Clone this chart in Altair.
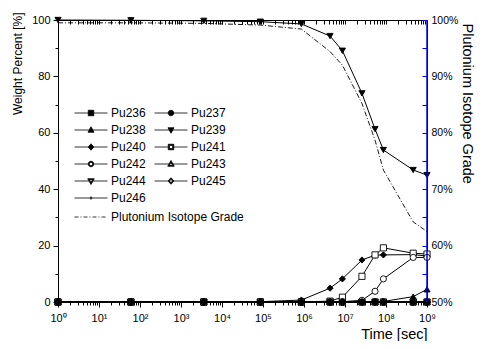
import altair as alt
import pandas as pd

# ---- data ----
times = [1, 60, 3600, 86400, 864000, 4.32e6, 8.64e6, 2.592e7, 5.4e7, 8.64e7, 4.6e8, 1e9]
isotopes = ["Pu236", "Pu237", "Pu238", "Pu239", "Pu240", "Pu241",
            "Pu242", "Pu243", "Pu244", "Pu245", "Pu246"]
pu236 = [0, 0, 0, 0, 0, 0, 0, 0, 0, 0, 0, 0]
pu237 = [0, 0, 0, 0, 0, 0, 0, 0, 0, 0, 0, 0]
pu238 = [0, 0, 0, 0, 0, 0, 0, 0, 0.1, 0.2, 1.9, 4.5]
pu239 = [100, 99.9, 99.7, 99.4, 98.6, 94.3, 89.1, 74.0, 61.3, 53.9, 46.8, 45.0]
pu240 = [0, 0, 0, 0.1, 0.7, 4.9, 8.2, 14.9, 16.6, 16.7, 16.8, 16.3]
pu241 = [0, 0, 0, 0, 0.05, 0.3, 1.7, 9.1, 16.7, 19.2, 17.3, 17.0]
pu242 = [0, 0, 0, 0, 0, 0, 0.1, 0.6, 3.8, 8.2, 15.8, 15.8]
pu243 = [0, 0, 0, 0, 0, 0, 0, 0, 0, 0, 0, 0]
pu244 = [0, 0, 0, 0, 0, 0, 0, 0, 0, 0, 0, 0]
pu245 = [0, 0, 0, 0, 0, 0, 0, 0, 0, 0, 0, 0]
pu246 = [0, 0, 0, 0, 0, 0, 0, 0, 0, 0, 0, 0]
grade_label = "Plutonium Isotope Grade"
grade = [99.5, 99.5, 99.4, 99.1, 98.4, 94.4, 92.0, 85.2, 78.7, 73.4, 64.2, 62.5]

x_major_values = [10 ** e for e in range(10)]
x_minor_values = [m * 10 ** e for e in range(9) for m in range(2, 10)]
left_major_values = list(range(0, 101, 20))
left_minor_values = list(range(10, 100, 20))
right_axis_values = list(range(50, 101, 5))

# ---- styles ----
FONT = "Liberation Sans"
plot_shapes = ["square", "circle", "triangle-up", "triangle-down", "diamond",
               "square", "circle", "triangle-up", "triangle-down", "diamond", "cross"]
plot_fills = ["black"] * 5 + ["white"] * 5 + ["black"]

series = [pu236, pu237, pu238, pu239, pu240, pu241, pu242, pu243, pu244, pu245, pu246]
rows = []
for iso, vals, shp, fil in zip(isotopes, series, plot_shapes, plot_fills):
    for t, v in zip(times, vals):
        rows.append({"iso": iso, "t": t, "v": v, "shp": shp, "fil": fil})
df = pd.DataFrame(rows)
gdf = pd.DataFrame({"t": times, "g": grade, "name": [grade_label] * len(times)})
edge_df = pd.DataFrame({"edge": [times[-1]]})

L = 3.3
m = 0.55   # outer half-size of legend markers
n = 0.32   # inner half-size (hole) of open legend markers
full = f"M{-L},0H{L}"


def circ(r, sweep):
    return f"M{-r},0A{r},{r},0,1,{sweep},{r},0A{r},{r},0,1,{sweep},{-r},0Z"


leg_paths = [
    full + f"M{-m},{-m}H{m}V{m}H{-m}Z",
    full + circ(m, 0),
    full + "M0,-0.65L0.6,0.45H-0.6Z",
    full + "M0,0.65L0.6,-0.45H-0.6Z",
    full + "M0,-0.65L0.55,0L0,0.65L-0.55,0Z",
    f"M{-L},0H{-m}M{m},0H{L}M{-m},{-m}H{m}V{m}H{-m}Z"
    f"M{-n},{-n}V{n}H{n}V{-n}Z",
    f"M{-L},0H{-m}M{m},0H{L}" + circ(m, 0) + circ(n, 1),
    f"M{-L},0H-0.4M0.4,0H{L}M0,-0.7L0.65,0.45H-0.65ZM0,-0.3L-0.33,0.27H0.33Z",
    f"M{-L},0H-0.4M0.4,0H{L}M0,0.7L0.65,-0.45H-0.65ZM0,0.3L-0.33,-0.27H0.33Z",
    f"M{-L},0H-0.6M0.6,0H{L}M0,-0.65L0.6,0L0,0.65L-0.6,0Z"
    "M0,-0.33L-0.3,0L0,0.33L0.3,0Z",
    full + "M0,-0.35V0.35M-0.25,0H0.25",
]
dd = ""
pos = -L
while pos < L:
    e = min(pos + 0.8, L)
    dd += f"M{pos:.2f},0H{e:.2f}"
    d0 = pos + 1.2
    if d0 < L:
        dd += f"M{d0:.2f},0H{min(d0 + 0.2, L):.2f}"
    pos += 1.8

sup = "['\u2070','\u00b9','\u00b2','\u00b3','\u2074','\u2075','\u2076','\u2077','\u2078','\u2079']"

x_scale = alt.Scale(type="log", domain=[1, 1e9], nice=False)
y_scale = alt.Scale(domain=[0, 100], nice=False)
g_scale = alt.Scale(domain=[50, 100], nice=False)

bottom_axis = alt.Axis(
    orient="bottom", values=x_major_values, labelOverlap=False, labelFlush=False,
    labelExpr=f"'10' + {sup}[round(log(datum.value)/LN10)]",
    tickSize=5, labelPadding=5, labelFontSize=11, title="Time [sec]",
    titleFontSize=14.5, titleAlign="right", titleX=369, titleY=36,
    titleBaseline="alphabetic",
)
bottom_minor_axis = alt.Axis(
    orient="bottom", values=x_minor_values, tickSize=3, labels=False,
    domain=False, title=None,
)
top_axis = alt.Axis(
    orient="top", values=x_major_values + x_minor_values, offset=-4,
    domain=False, labels=False, tickSize=4, title=None,
)
left_axis = alt.Axis(
    orient="left", values=left_major_values, labelOverlap=False, labelFlush=False,
    tickSize=5, labelPadding=3, labelFontSize=11, title="Weight Percent [%]",
    titleFontSize=12, titleAngle=270, titleAlign="right",
    titleBaseline="middle", titleX=-41, titleY=-8,
)
left_minor_axis = alt.Axis(
    orient="left", values=left_minor_values, tickSize=3, labels=False,
    domain=False, title=None,
)
right_axis = alt.Axis(
    orient="right", values=right_axis_values, offset=-5, domain=False,
    tickColor="#0000ff", tickSize=5, labelOverlap=False, labelFlush=False,
    labelExpr="datum.value % 10 == 0 ? datum.value + '%' : ''",
    labelPadding=4, labelFontSize=10.5, title="Plutonium Isotope Grade",
    titleFontSize=14.5, titleAngle=90, titleAlign="left", titleBaseline="middle",
    titleX=44, titleY=3,
)

legend_common = dict(
    title=None, orient="none", symbolSize=100, symbolStrokeWidth=0.8,
    symbolStrokeColor="black", labelFontSize=12,
    labelFont=FONT, labelColor="black", labelOffset=14,
)

lines = alt.Chart(df).mark_line(color="black", strokeWidth=1).encode(
    x=alt.X("t:Q", scale=x_scale, axis=bottom_axis),
    y=alt.Y("v:Q", scale=y_scale, axis=left_axis),
    detail="iso:N",
)
points = alt.Chart(df).mark_point(filled=True, stroke="black", strokeWidth=0.9,
                                  size=38, opacity=1).encode(
    x=alt.X("t:Q", scale=x_scale, axis=None),
    y=alt.Y("v:Q", scale=y_scale, axis=None),
    shape=alt.Shape("shp:N", scale=None),
    fill=alt.Fill("fil:N", scale=None),
)
legend_iso = alt.Chart(df).transform_filter("false").mark_point(
    filled=True, fill="black", stroke="black", strokeWidth=0.8, opacity=1
).encode(
    x=alt.X("t:Q", scale=x_scale, axis=None),
    y=alt.Y("v:Q", scale=y_scale, axis=None),
    shape=alt.Shape(
        "iso:N", scale=alt.Scale(domain=isotopes, range=leg_paths),
        legend=alt.Legend(legendX=27, legendY=87, columns=2,
                          direction="horizontal", columnPadding=6, rowPadding=5,
                          symbolFillColor="black", **legend_common),
    ),
)
legend_grade = alt.Chart(gdf).transform_filter("false").mark_point(
    filled=False, strokeWidth=1, opacity=1
).encode(
    x=alt.X("t:Q", scale=x_scale, axis=None),
    y=alt.Y("g:Q", scale=g_scale, axis=None),
    color=alt.Color(
        "name:N", scale=alt.Scale(domain=[grade_label], range=["black"]),
        legend=alt.Legend(legendX=27, legendY=191, symbolType=dd,
                          symbolFillColor="transparent", **legend_common),
    ),
)
minor_ticks = alt.Chart(edge_df).mark_point(opacity=0).encode(
    x=alt.X("edge:Q", scale=x_scale, axis=bottom_minor_axis),
    y=alt.YDatum(0, scale=y_scale, axis=left_minor_axis),
)
grade_line = alt.Chart(gdf).mark_line(color="black", strokeWidth=0.9,
                                      strokeDash=[5, 2, 1, 2]).encode(
    x=alt.X("t:Q", scale=x_scale, axis=top_axis),
    y=alt.Y("g:Q", scale=g_scale, axis=right_axis),
)
blue_rule = alt.Chart(edge_df).mark_rule(color="#0000ff", strokeWidth=1.5).encode(
    x=alt.X("edge:Q", scale=x_scale, axis=None),
    y=alt.YDatum(0, scale=y_scale, axis=None),
    y2=alt.Y2Datum(100),
)

chart = (
    alt.layer(lines, points, legend_iso, legend_grade, minor_ticks, grade_line, blue_rule)
    .resolve_scale(y="independent")
    .resolve_axis(x="independent", y="independent")
    .properties(width=369, height=282, autosize="none",
                padding={"left": 50, "top": 12, "right": 48, "bottom": 39})
    .configure_view(stroke="black", strokeWidth=1)
    .configure_axis(grid=False, domainColor="black", tickColor="black",
                    labelColor="black", titleColor="black", labelFont=FONT,
                    titleFont=FONT, titleFontWeight="normal", domainWidth=1)
)

chart.save("out.html", embed_options={"renderer": "svg", "actions": False})
